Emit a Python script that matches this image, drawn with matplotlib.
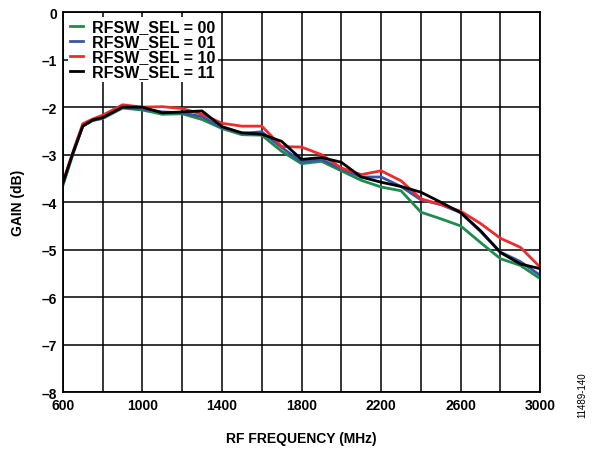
import matplotlib.pyplot as plt
from matplotlib.ticker import MultipleLocator, FixedLocator

plt.rcParams['font.family'] = ['Liberation Sans', 'DejaVu Sans']

freq = [600, 650, 700, 750, 800, 900, 1000, 1100, 1200, 1300, 1400, 1500, 1600,
        1700, 1800, 1900, 2000, 2100, 2200, 2300, 2400, 2500, 2600, 2700, 2800,
        2900, 3000]

gain_00 = [-3.65, -3.00, -2.40, -2.28, -2.24, -2.02, -2.06, -2.15, -2.14, -2.26,
           -2.45, -2.58, -2.59, -2.93, -3.19, -3.14, -3.34, -3.54, -3.68, -3.76,
           -4.21, -4.35, -4.50, -4.85, -5.19, -5.33, -5.61]
gain_01 = [-3.62, -2.98, -2.40, -2.28, -2.23, -2.00, -2.04, -2.10, -2.12, -2.20,
           -2.43, -2.55, -2.52, -2.85, -3.15, -3.10, -3.30, -3.47, -3.47, -3.67,
           -3.95, -4.05, -4.22, -4.62, -5.05, -5.25, -5.54]
gain_10 = [-3.58, -2.95, -2.35, -2.25, -2.17, -1.95, -2.00, -1.99, -2.03, -2.15,
           -2.34, -2.40, -2.40, -2.83, -2.84, -3.00, -3.28, -3.42, -3.34, -3.55,
           -3.93, -4.05, -4.19, -4.45, -4.76, -4.95, -5.37]
gain_11 = [-3.60, -2.97, -2.40, -2.27, -2.22, -2.00, -2.00, -2.12, -2.10, -2.08,
           -2.41, -2.54, -2.57, -2.72, -3.10, -3.06, -3.16, -3.47, -3.58, -3.67,
           -3.79, -4.00, -4.22, -4.60, -5.06, -5.30, -5.40]

series = [
    ("RFSW_SEL = 00", gain_00, "#1e8c4e"),
    ("RFSW_SEL = 01", gain_01, "#3b55a3"),
    ("RFSW_SEL = 10", gain_10, "#ee2b2e"),
    ("RFSW_SEL = 11", gain_11, "#000000"),
]

fig = plt.figure(figsize=(5.93, 4.52), dpi=100)
ax = fig.add_axes([0.106, 0.130, 0.805, 0.841])

for label, vals, color in series:
    ax.plot(freq, vals, color=color, linewidth=2.0, label=label)

ax.set_xlim(600, 3000)
ax.set_ylim(-8, 0)
ax.xaxis.set_major_locator(FixedLocator([600, 1000, 1400, 1800, 2200, 2600, 3000]))
ax.xaxis.set_minor_locator(MultipleLocator(200))
ax.grid(True, which='both', color='black', linewidth=1.1)
ax.tick_params(which='both', length=0, labelsize=10, pad=4)
ax.set_yticks(range(-8, 1))
ax.set_yticklabels([str(v).replace('-', '\u2013') for v in range(-8, 1)])
for t in ax.get_xticklabels() + ax.get_yticklabels():
    t.set_fontweight('bold')
for sp in ax.spines.values():
    sp.set_linewidth(1.3)

ax.set_xlabel("RF FREQUENCY (MHz)", fontsize=10, fontweight='bold', labelpad=14)
ax.set_ylabel("GAIN (dB)", fontsize=10, fontweight='bold', labelpad=12)

leg = ax.legend(loc='upper left', frameon=True, fancybox=False, framealpha=1,
                edgecolor='none', facecolor='white', handlelength=0.8,
                borderpad=0.15, labelspacing=0.0, handletextpad=0.6,
                borderaxespad=0.3, prop={'weight': 'bold', 'size': 11.5})
leg.set_zorder(5)

fig.text(0.982, 0.075, "11489-140", rotation=90, fontsize=7, ha='center', va='bottom')

fig.savefig("out.png", dpi=100)
